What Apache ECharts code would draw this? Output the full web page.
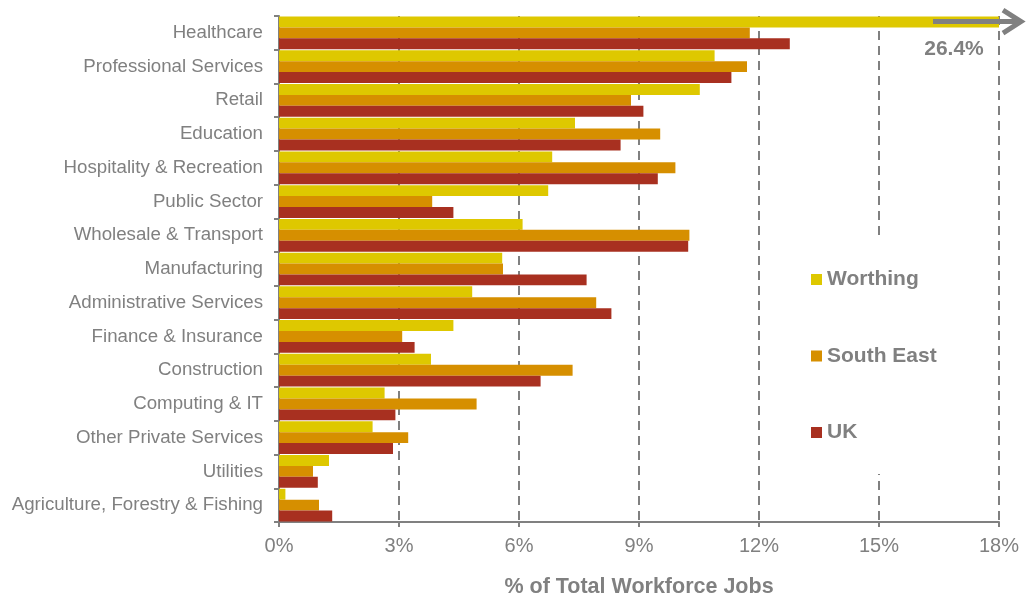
<!DOCTYPE html>
<html>
<head>
<meta charset="utf-8">
<script src="https://cdn.jsdelivr.net/npm/echarts@6/dist/echarts.min.js"></script>
<style>
html,body{margin:0;padding:0;background:#fff;}
#chart{width:1028px;height:597px;}
</style>
</head>
<body>
<div id="chart"></div>
<script>
var categories = ["Healthcare","Professional Services","Retail","Education","Hospitality & Recreation","Public Sector","Wholesale & Transport","Manufacturing","Administrative Services","Finance & Insurance","Construction","Computing & IT","Other Private Services","Utilities","Agriculture, Forestry & Fishing"];
var worthing = [26.4,10.89,10.52,7.40,6.83,6.73,6.09,5.58,4.83,4.36,3.80,2.64,2.34,1.25,0.16];
var southEast = [11.77,11.70,8.80,9.53,9.91,3.83,10.26,5.60,7.93,3.08,7.34,4.94,3.23,0.85,1.00];
var uk = [12.77,11.31,9.11,8.54,9.47,4.36,10.23,7.69,8.31,3.39,6.54,2.91,2.85,0.97,1.33];
var xTicks = [0,3,6,9,12,15,18];

var GREY = '#808080';
var FONT = '"Liberation Sans", Arial, sans-serif';
var chart = echarts.init(document.getElementById('chart'));

var option = {
  animation: false,
  textStyle: {fontFamily: FONT},
  grid: {left: 279, right: 29, top: 16, bottom: 75, containLabel: false, outerBoundsMode: 'none'},
  legend: {
    orient: 'vertical',
    left: 805, top: 240,
    padding: [28.5, 20, 30.5, 6],
    backgroundColor: '#ffffff',
    itemWidth: 11, itemHeight: 11, itemGap: 54.5,
    icon: 'rect',
    itemStyle: {borderWidth: 0},
    textStyle: {color: GREY, fontSize: 21, fontWeight: 'bold', fontFamily: FONT, lineHeight: 22},
    data: ['Worthing','South East','UK']
  },
  xAxis: {
    type: 'value', min: xTicks[0], max: xTicks[xTicks.length-1], interval: xTicks[1]-xTicks[0],
    name: '% of Total Workforce Jobs', nameLocation: 'middle', nameGap: 54,
    nameTextStyle: {color: GREY, fontSize: 21.5, fontWeight: 'bold', fontFamily: FONT},
    axisLine: {show: true, lineStyle: {color: GREY, width: 2}},
    axisTick: {show: true, length: 5, lineStyle: {color: GREY, width: 2}},
    axisLabel: {color: GREY, fontSize: 20, margin: 14, formatter: '{value}%', fontFamily: FONT},
    splitLine: {show: true, lineStyle: {color: GREY, width: 2, type: [9,6]}}
  },
  yAxis: {
    type: 'category', inverse: true, data: categories,
    axisLine: {show: true, lineStyle: {color: GREY, width: 2}},
    axisTick: {show: true, length: 5, lineStyle: {color: GREY, width: 2}},
    axisLabel: {color: GREY, fontSize: 18.7, margin: 16, fontFamily: FONT}
  },
  series: [
    {name: 'Worthing', type: 'bar', data: worthing, barGap: '0%', barCategoryGap: '3%', clip: true,
     itemStyle: {color: '#DEC800'}},
    {name: 'South East', type: 'bar', data: southEast, barGap: '0%', barCategoryGap: '3%',
     itemStyle: {color: '#D68F00'}},
    {name: 'UK', type: 'bar', data: uk, barGap: '0%', barCategoryGap: '3%',
     itemStyle: {color: '#A83020'}}
  ]
};
chart.setOption(option);

// annotation for the clipped Healthcare/Worthing bar
var p0 = chart.convertToPixel({gridIndex: 0}, [16.35, categories[0]]);
var p1 = chart.convertToPixel({gridIndex: 0}, [18.6, categories[1]]);
var bw = p1[1] - p0[1];
var yA = p0[1] - bw / 3;
var tipX = p1[0];
var labelPos = chart.convertToPixel({gridIndex: 0}, [16.875, categories[0]]);
chart.setOption({
  graphic: [
    {type: 'line', z: 100, shape: {x1: p0[0], y1: yA, x2: tipX - 3, y2: yA},
     style: {stroke: GREY, lineWidth: 5}},
    {type: 'polyline', z: 100, shape: {points: [[tipX - 20, yA - 11.5], [tipX - 2, yA], [tipX - 20, yA + 11.5]]},
     style: {stroke: GREY, lineWidth: 5, fill: null, lineJoin: 'miter'}},
    {type: 'text', z: 100, x: labelPos[0], y: labelPos[1] + 0.48 * bw,
     style: {text: worthing[0].toFixed(1) + '%', fill: GREY, font: 'bold 21px ' + FONT, align: 'center', verticalAlign: 'middle'}}
  ]
});
</script>
</body>
</html>
